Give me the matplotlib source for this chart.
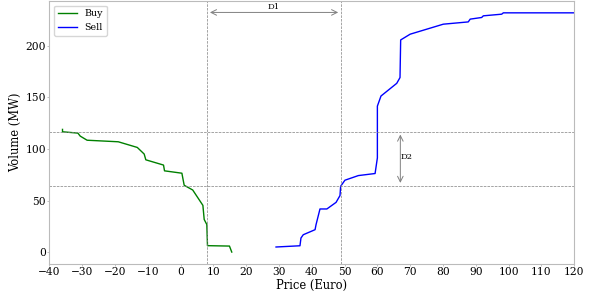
import matplotlib
matplotlib.use("Agg")
import matplotlib.pyplot as plt

# Данные кривых спроса и предложения
buy_price = [-36.0, -36.0, -31.3, -30.6, -28.5, -19.0, -13.2, -11.1, -10.6, -5.2, -4.9,
             0.4, 0.7, 1.1, 3.7, 6.8, 7.2, 8.0, 8.2, 14.9, 15.6]
buy_volume = [119.0, 116.7, 115.4, 112.5, 108.5, 107.0, 101.5, 95.1, 89.5, 84.4, 78.8,
              76.5, 71.4, 64.8, 60.2, 45.3, 31.6, 26.7, 6.2, 5.8, 0.0]

sell_price = [29.1, 36.4, 36.7, 37.4, 41.0, 41.3, 42.5, 44.6, 47.4, 48.6, 48.8, 50.1,
              54.2, 59.3, 60.0, 60.0, 61.1, 65.9, 66.9, 67.1, 70.0, 80.1, 87.7, 88.3,
              91.8, 92.3, 97.9, 98.4, 120.0]
sell_volume = [4.9, 6.1, 13.6, 16.8, 21.7, 26.6, 41.8, 41.8, 48.2, 54.8, 63.8, 69.7,
               74.2, 76.2, 91.4, 141.6, 151.4, 163.7, 169.3, 205.8, 211.4, 221.1, 223.3, 226.0,
               227.6, 229.2, 230.8, 232.1, 232.1]

# Пересечения / вспомогательные линии
price_lines = [8.1, 48.9]
volume_lines = [116.7, 64.4]
d1_y = 232.5
d2_x = 67.0

plt.rcParams['font.family'] = 'DejaVu Serif'

fig = plt.figure(figsize=(5.95, 2.94), dpi=100)
ax = fig.add_axes([0.083, 0.102, 0.882, 0.895])

ax.plot(buy_price, buy_volume, color='green', linewidth=1.0, label='Buy')
ax.plot(sell_price, sell_volume, color='blue', linewidth=1.0, label='Sell')

for p in price_lines:
    ax.axvline(p, color='gray', linestyle='--', linewidth=0.5)
for v in volume_lines:
    ax.axhline(v, color='gray', linestyle='--', linewidth=0.5)

arrow = dict(arrowstyle='<->', color='gray', linewidth=0.7)
ax.annotate('', xy=(price_lines[0], d1_y), xytext=(price_lines[1], d1_y), arrowprops=arrow)
ax.text((price_lines[0] + price_lines[1]) / 2, d1_y + 1, 'D1', fontsize=6,
        ha='center', va='bottom')
ax.annotate('', xy=(d2_x, volume_lines[0]), xytext=(d2_x, volume_lines[1]), arrowprops=arrow)
ax.text(d2_x, (volume_lines[0] + volume_lines[1]) / 2 + 2, 'D2', fontsize=6,
        ha='left', va='center')

ax.set_xlim(-40, 120)
ax.set_xticks(range(-40, 121, 10))
ax.set_yticks([0, 50, 100, 150, 200])
ax.set_xlabel('Price (Euro)', fontsize=8.3, labelpad=1)
ax.set_ylabel('Volume (MW)', fontsize=8.3, labelpad=2)
ax.tick_params(labelsize=7.7, length=1.5, width=0.5, color='#aaaaaa', pad=1)
for s in ax.spines.values():
    s.set_color('#bbbbbb')

ax.legend(loc='upper left', fontsize=6.8, frameon=True)

fig.savefig('out.png', dpi=100)
